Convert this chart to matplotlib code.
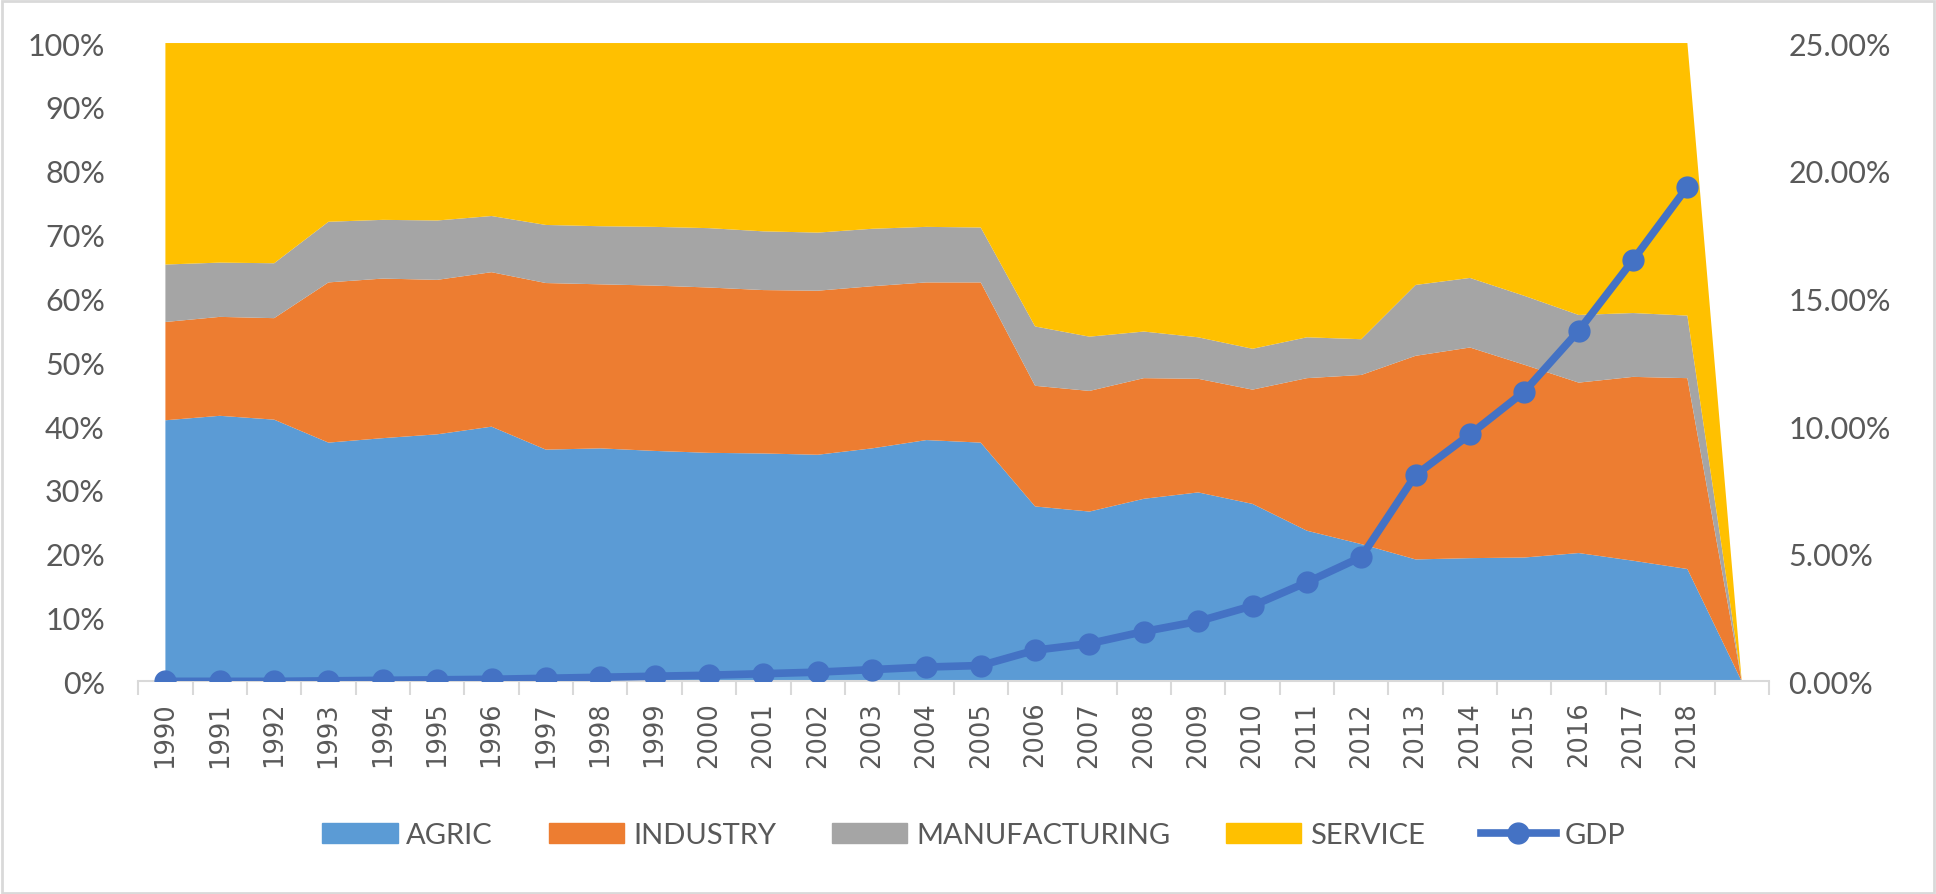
import numpy as np
import matplotlib.pyplot as plt
from matplotlib.patches import Patch, Rectangle
from matplotlib.lines import Line2D
from matplotlib.ticker import FixedLocator

# Sector shares (% of total), 1990-2018, plus an empty category at the end
years = [str(y) for y in range(1990, 2019)] + ['']
agric = [40.9, 41.6, 41.0, 37.4, 38.1, 38.7, 39.9, 36.3, 36.5, 36.1, 35.8, 35.7, 35.5, 36.5, 37.8,
         37.4, 27.4, 26.6, 28.6, 29.6, 27.8, 23.6, 21.5, 19.1, 19.3, 19.4, 20.1, 18.9, 17.6, 0]
industry = [15.4, 15.5, 15.9, 25.1, 25.0, 24.2, 24.2, 26.1, 25.7, 25.9, 25.9, 25.6, 25.7, 25.4, 24.7,
            25.1, 18.9, 18.9, 18.9, 17.8, 17.9, 23.9, 26.5, 31.9, 33.0, 30.2, 26.7, 28.8, 29.9, 0]
manufacturing = [9.0, 8.5, 8.6, 9.5, 9.2, 9.3, 8.8, 9.1, 9.1, 9.2, 9.3, 9.2, 9.1, 9.0, 8.7,
                 8.6, 9.3, 8.5, 7.3, 6.5, 6.4, 6.4, 5.6, 11.1, 10.9, 10.8, 10.6, 10.0, 9.8, 0]
service = [34.7, 34.4, 34.5, 28.0, 27.7, 27.8, 27.1, 28.5, 28.7, 28.8, 29.0, 29.5, 29.7, 29.1, 28.8,
           28.9, 44.4, 46.0, 45.2, 46.1, 47.9, 46.1, 46.4, 37.9, 36.8, 39.6, 42.6, 42.3, 42.7, 0]
# GDP (%), secondary axis, no value for the empty category
gdp = [0.0, 0.0, 0.0, 0.02, 0.04, 0.06, 0.08, 0.12, 0.16, 0.2, 0.24, 0.3, 0.36, 0.46, 0.56,
       0.62, 1.22, 1.48, 1.95, 2.35, 2.96, 3.88, 4.87, 8.08, 9.67, 11.35, 13.73, 16.5, 19.37]

c_agric = '#5B9BD5'
c_ind = '#ED7D31'
c_man = '#A5A5A5'
c_serv = '#FFC000'
c_gdp = '#4472C4'
c_text = '#595959'
c_axis = '#D9D9D9'

# 100% stacking
stack = np.array([agric, industry, manufacturing, service], dtype=float)
tot = stack.sum(axis=0)
pct = np.where(tot > 0, stack / np.where(tot == 0, 1, tot) * 100, 0)

x = np.arange(len(years))

fig = plt.figure(figsize=(19.36, 8.95), dpi=100)
ax = fig.add_axes([0.0714, 0.2376, 0.9137 - 0.0714, 0.9508 - 0.2376])
ax.stackplot(x, pct, colors=[c_agric, c_ind, c_man, c_serv], linewidth=0)
ax.set_xlim(-0.5, len(years) - 0.5)
ax.set_ylim(0, 100)

ax2 = ax.twinx()
ax2.plot(x[:len(gdp)], gdp, '-o', color=c_gdp, lw=5.5, markersize=15, solid_capstyle='round')
ax2.set_ylim(0, 25)

for a in (ax, ax2):
    for s in a.spines.values():
        s.set_visible(False)

ax.spines['bottom'].set_visible(True)
ax.spines['bottom'].set_color(c_axis)
ax.spines['bottom'].set_linewidth(1.5)

ax.set_yticks(np.arange(0, 101, 10))
ax.set_yticklabels(['%d%%' % v for v in range(0, 101, 10)], fontsize=22, color=c_text, family='Lato')
ax.tick_params(axis='y', length=0, pad=24)
ax2.set_yticks(np.arange(0, 26, 5))
ax2.set_yticklabels(['%.2f%%' % v for v in range(0, 26, 5)], fontsize=22, color=c_text, family='Lato')
ax2.tick_params(axis='y', length=0, pad=14)

ax.set_xticks(x)
ax.set_xticklabels(years, rotation=90, fontsize=18.5, color=c_text, family='DejaVu Sans')
ax.tick_params(axis='x', which='major', length=0, pad=14)
ax.xaxis.set_minor_locator(FixedLocator(np.arange(-0.5, len(years), 1)))
ax.tick_params(axis='x', which='minor', length=10, width=1.5, color=c_axis, direction='out')

handles = [Patch(color=c_agric, label='AGRIC'),
           Patch(color=c_ind, label='INDUSTRY'),
           Patch(color=c_man, label='MANUFACTURING'),
           Patch(color=c_serv, label='SERVICE'),
           Line2D([], [], color=c_gdp, lw=5.5, marker='o', markersize=15, label='GDP')]
leg = fig.legend(handles=handles, loc='center', bbox_to_anchor=(0.503, 0.066), ncol=5,
                 frameon=False, handlelength=2.6, handletextpad=0.3,
                 columnspacing=1.9, prop={'family': 'Lato', 'size': 21})
for t in leg.get_texts():
    t.set_color(c_text)

fig.patches.append(Rectangle((0.001, 0.001), 0.998, 0.997, transform=fig.transFigure,
                             fill=False, edgecolor=c_axis, lw=2))

fig.savefig('out.png', dpi=100)
